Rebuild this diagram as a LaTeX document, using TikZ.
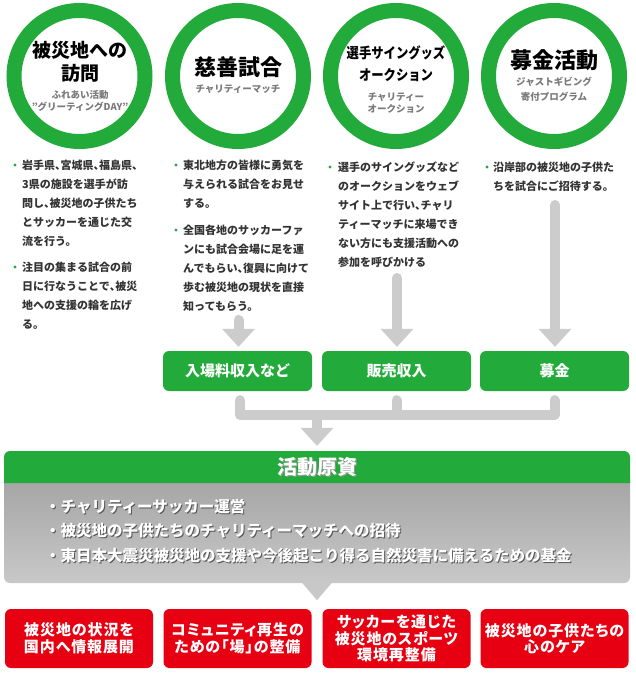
\documentclass[tikz,border=0pt]{standalone}
\usepackage{fontspec}
\usepackage{graphicx}
\usetikzlibrary{arrows.meta}
\setmainfont{Noto Sans CJK JP}
\definecolor{ggreen}{HTML}{22AA3A}
\definecolor{gred}{HTML}{E60012}
\definecolor{garr}{HTML}{CCCCCC}
\definecolor{txt}{HTML}{333333}
\definecolor{subc}{HTML}{7A7A7A}
\definecolor{bodytop}{HTML}{A2A2A2}
\definecolor{bodybot}{HTML}{C8C8C8}
\definecolor{shad}{HTML}{555555}
\newcommand\hc{{\addfontfeatures{RawFeature=+halt}、}}
\newcommand\fst{\rule{0pt}{9.7pt}}
\tikzset{
  ring/.style={circle, draw=ggreen, line width=15pt, minimum size=131pt, inner sep=0pt},
  ctitle/.style={inner sep=0pt, text=black, font=\fontsize{19}{23}\selectfont\bfseries},
  cbig/.style={inner sep=0pt, text=black, font=\fontsize{22}{26}\selectfont\bfseries},
  csub/.style={inner sep=0pt, text=subc, font=\fontsize{9.5}{12}\selectfont\bfseries},
  para/.style={anchor=north west, inner sep=0pt, align=left, text=txt, font=\fontsize{11}{19}\selectfont\bfseries},
  bdot/.style={fill=ggreen},
  garrow/.style={draw=garr, line width=10pt, line cap=round, -{Triangle[width=33pt,length=18pt,line width=0pt]}},
  gline/.style={draw=garr, line width=10pt, line cap=round, line join=round},
  gbox/.style={fill=ggreen, rounded corners=6pt, minimum width=149pt, minimum height=40pt, inner sep=0pt, text=white, font=\fontsize{15}{18}\selectfont\bfseries},
  rbox/.style={fill=gred, rounded corners=6pt, minimum width=148pt, minimum height=59pt, inner sep=0pt, text=white, align=center, font=\fontsize{15}{16.5}\selectfont\bfseries\addfontfeatures{RawFeature=+palt,LetterSpace=6}},
  btext/.style={anchor=west, inner sep=0pt, text=white, font=\fontsize{15.5}{18}\selectfont\bfseries},
  bshadow/.style={anchor=west, inner sep=0pt, text=shad, font=\fontsize{15.5}{18}\selectfont\bfseries},
}
\begin{document}
\begin{tikzpicture}[x=1pt,y=-1pt]
\useasboundingbox (0,0) rectangle (635,677);
\fill[white] (0,0) rectangle (635,677);

% circles
\node[ring] (c1) at (79.5,76) {};
\node[ring] (c2) at (238,76) {};
\node[ring] (c3) at (396,76) {};
\node[ring] (c4) at (554,76) {};

\node[ctitle] (c1t1) at (80,50) {被災地への};
\node[ctitle] (c1t2) at (80,73) {訪問};
\node[csub] (c1s1) at (80,95) {ふれあい活動};
\node[csub] (c1s2) at (80,107) {"グリーティングDAY"};

\node[cbig] (c2t) at (238,67) {慈善試合};
\node[csub] (c2s) at (238,89) {チャリティーマッチ};

\node[ctitle, font=\fontsize{14.5}{18}\selectfont\bfseries] (c3t1) at (396,53) {\scalebox{0.85}[1]{選手サイングッズ}};
\node[ctitle, font=\fontsize{14.5}{18}\selectfont\bfseries] (c3t2) at (396,75) {\scalebox{0.85}[1]{オークション}};
\node[csub] (c3s1) at (396,97) {チャリティー};
\node[csub] (c3s2) at (396,109) {オークション};

\node[cbig] (c4t) at (554,60) {募金活動};
\node[csub] (c4s1) at (554,82) {ジャストギビング};
\node[csub] (c4s2) at (554,97) {寄付プログラム};

% bullet paragraphs
\fill[bdot] (15,165) circle (1.6);
\node[para] (p11) at (22,159.5) {\fst 岩手県\hc 宮城県\hc 福島県\hc\\3県の施設を選手が訪\\問し\hc 被災地の子供たち\\とサッカーを通じた交\\流を行う。};
\fill[bdot] (15,267) circle (1.6);
\node[para] (p12) at (22,261.5) {\fst 注目の集まる試合の前\\日に行なうことで\hc 被災\\地への支援の輪を広げ\\る。};

\fill[bdot] (176,165) circle (1.6);
\node[para] (p21) at (183,159.5) {\fst 東北地方の皆様に勇気を\\与えられる試合をお見せ\\する。};
\fill[bdot] (176,230) circle (1.6);
\node[para] (p22) at (183,224.5) {\fst 全国各地のサッカーファ\\ンにも試合会場に足を運\\んでもらい\hc 復興に向けて\\歩む被災地の現状を直接\\知ってもらう。};

\fill[bdot] (330,167) circle (1.6);
\node[para] (p3) at (338,161.5) {\fst 選手のサイングッズなど\\のオークションをウェブ\\サイト上で行い\hc チャリ\\ティーマッチに来場でき\\ない方にも支援活動への\\参加を呼びかける};

\fill[bdot] (487,167) circle (1.6);
\node[para] (p4) at (493,161.5) {\fst 沿岸部の被災地の子供た\\ちを試合にご招待する。};

% green boxes
\node[gbox] (g1) at (237.5,371) {入場料収入など};
\node[gbox] (g2) at (396.5,371) {販売収入};
\node[gbox] (g3) at (554.5,371) {募金};

% arrows into boxes
\coordinate (a1) at (238.5,320);
\coordinate (a2) at (397,278);
\coordinate (a3) at (555,205);
\draw[garrow, shorten >=4pt] (a1) -- (a1 |- g1.north);
\draw[garrow, shorten >=4pt] (a2) -- (a2 |- g2.north);
\draw[garrow, shorten >=4pt] (a3) -- (a3 |- g3.north);

% fund box
\node[minimum width=626pt, minimum height=132pt, inner sep=0pt] (fund) at (317,517) {};
\shade[top color=bodytop, bottom color=bodybot, rounded corners=6pt] (4,470) rectangle (630,583);
\fill[ggreen] (4,483) [rounded corners=6pt] -- (4,451) -- (630,451) [sharp corners] -- (630,483) -- cycle;
\fill[bodybot] ([xshift=-14.5pt]fund.south) -- ([xshift=14.5pt]fund.south) -- ([yshift=-17pt]fund.south) -- cycle;

% collector
\coordinate (bar) at (317,415);
\draw[gline] ([xshift=2.5pt,yshift=-9pt]g1.south) |- (bar) -| ([yshift=-9pt]g3.south);
\draw[gline] ([yshift=-9pt]g2.south) -- (g2.south |- bar);
\draw[garrow, shorten >=5pt] (bar) -- (fund.north);

\node[inner sep=0pt, text=shad!60, font=\fontsize{20}{22}\selectfont\bfseries] (hdrs) at (318,468) {活動原資};
\node[inner sep=0pt, text=white, font=\fontsize{20}{22}\selectfont\bfseries] (hdr) at (317,467) {活動原資};

\node[bshadow] (l1s) at (46,508) {・チャリティーサッカー運営};
\node[btext] (l1) at (45,507) {・チャリティーサッカー運営};
\node[bshadow] (l2s) at (46,532) {・被災地の子供たちのチャリティーマッチへの招待};
\node[btext] (l2) at (45,531) {・被災地の子供たちのチャリティーマッチへの招待};
\node[bshadow] (l3s) at (46,557) {・東日本大震災被災地の支援や今後起こり得る自然災害に備えるための基金};
\node[btext] (l3) at (45,556) {・東日本大震災被災地の支援や今後起こり得る自然災害に備えるための基金};

% red boxes
\node[rbox] (r1) at (79,638.5) {被災地の状況を\\国内へ情報展開};
\node[rbox] (r2) at (237.5,638.5) {コミュニティ再生の\\ための「場」の整備};
\node[rbox] (r3) at (396.5,638.5) {サッカーを通じた\\被災地のスポーツ\\環境再整備};
\node[rbox] (r4) at (554.5,638.5) {被災地の子供たちの\\心のケア};
\end{tikzpicture}
\end{document}
